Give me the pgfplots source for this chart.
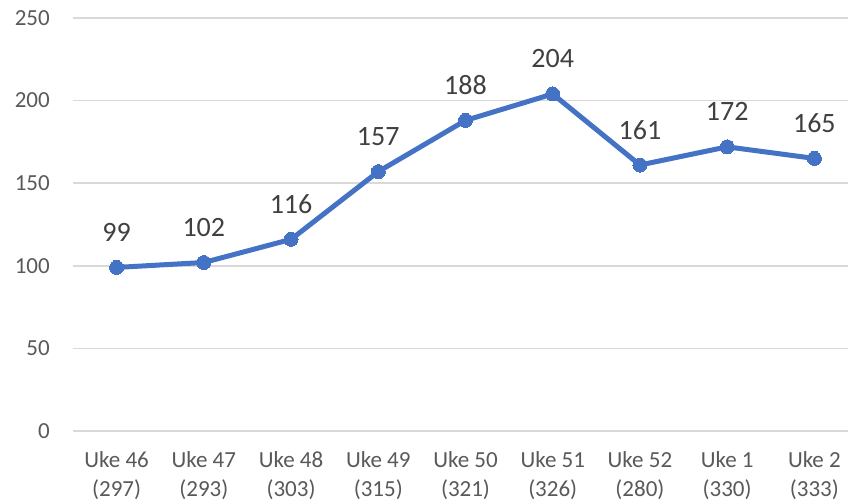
\documentclass[border=0pt]{standalone}
\usepackage{fontspec}
\setmainfont{Carlito}
\usepackage{pgfplots}
\pgfplotsset{compat=1.18}
\definecolor{lineblue}{HTML}{4472C4}
\definecolor{lbl}{HTML}{404040}
\definecolor{tck}{HTML}{595959}
\definecolor{grd}{HTML}{D9D9D9}
\begin{document}
\begin{tikzpicture}
\useasboundingbox (0,0) rectangle (848pt,502pt);
\begin{axis}[
  at={(73pt,71pt)}, anchor=south west,
  scale only axis, width=785pt, height=413pt,
  xmin=-0.5, xmax=8.5, ymin=0, ymax=250,
  ytick={0,50,100,150,200,250},
  xtick={0,...,8},
  xticklabels={{Uke 46\\(297)},{Uke 47\\(293)},{Uke 48\\(303)},{Uke 49\\(315)},{Uke 50\\(321)},{Uke 51\\(326)},{Uke 52\\(280)},{Uke 1\\(330)},{Uke 2\\(333)}},
  axis line style={draw=none},
  tick style={draw=none},
  ymajorgrids, grid style={grd, line width=1.5pt},
  /pgf/number format/assume math mode=true,
  yticklabel style={font=\fontsize{23}{28}\selectfont, text=tck, inner sep=0pt, xshift=-23pt, anchor=east},
  xticklabel style={font=\fontsize{23}{29}\selectfont, text=tck, align=center, inner sep=0pt, anchor=north, yshift=-20pt},
  nodes near coords,
  every node near coord/.style={font=\fontsize{28}{32}\selectfont, text=lbl, anchor=base, inner sep=0pt, yshift=26pt},
  clip=false,
]
\addplot[color=lineblue, line width=5pt, mark=*, mark size=7pt, mark options={fill=lineblue, draw=lineblue, line width=0pt}]
  coordinates {(0,99) (1,102) (2,116) (3,157) (4,188) (5,204) (6,161) (7,172) (8,165)};
\end{axis}
\end{tikzpicture}
\end{document}
